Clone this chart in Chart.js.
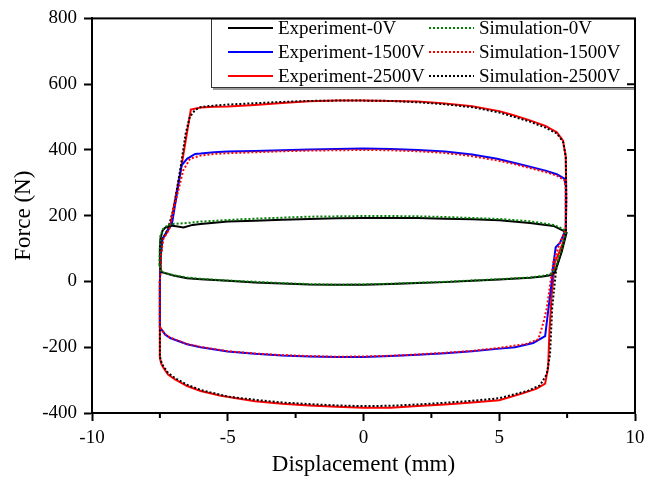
<!DOCTYPE html>
<html>
<head>
<meta charset="utf-8">
<script src="https://cdn.jsdelivr.net/npm/chart.js@4/dist/chart.umd.min.js"></script>
<style>
  html, body { margin: 0; padding: 0; background: #fff; }
  canvas { display: block; }
</style>
</head>
<body>
<canvas id="c" width="659" height="481"></canvas>
<script>
// ---- Data ----
const xTicks = [-10, -5, 0, 5, 10];
const yTicks = [-400, -200, 0, 200, 400, 600, 800];
const xMinorTicks = [-7.5, -2.5, 2.5, 7.5];

const labels = ['Experiment-0V', 'Simulation-0V', 'Experiment-1500V', 'Simulation-1500V', 'Experiment-2500V', 'Simulation-2500V'];

const exp0X = [-7.50,-7.50,-7.48,-7.40,-7.31,-7.12,-6.90,-6.63,-6.30,-6.00,-5.00,-4.00,-3.00,-2.00,-1.00,0.00,1.00,2.00,3.00,4.00,5.00,6.13,7.00,7.35,7.48,7.30,7.05,6.87,6.60,6.13,5.00,4.00,3.00,2.00,1.00,0.00,-1.00,-2.00,-3.00,-4.00,-5.00,-6.00,-6.50,-7.00,-7.43,-7.50];
const exp0Y = [45,100,130,155,163,170,168,164,172,175,182,185,188,190,192,193,193,193,191,189,186,178,169,155,148,90,28,19,15,11,6,2,-2,-5,-8,-10,-10,-9,-6,-3,2,7,10,18,28,45];

const sim0X = [-7.52,-7.50,-7.48,-7.38,-7.20,-7.00,-6.60,-6.00,-5.00,-4.00,-3.00,-2.00,-1.00,0.00,1.00,2.00,3.00,4.00,5.00,6.13,7.00,7.35,7.45,7.30,7.05,6.87,6.60,6.13,5.00,4.00,3.00,2.00,1.00,0.00,-1.00,-2.00,-3.00,-4.00,-5.00,-6.00,-6.50,-7.00,-7.43,-7.52];
const sim0Y = [49,100,139,160,172,175,177,182,187,191,194,197,198,199,199,198,196,193,190,183,172,160,150,100,35,22,17,12,7,3,-1,-4,-7,-9,-10,-8,-5,-1,3,8,12,19,29,49];

const exp1500X = [-7.50,-7.50,-7.47,-7.40,-7.20,-7.06,-6.70,-6.50,-6.20,-6.00,-5.50,-5.00,-4.00,-3.00,-2.00,-1.00,0.00,1.00,2.00,3.00,4.00,4.92,5.50,6.13,6.70,7.12,7.40,7.45,7.45,7.24,7.08,6.99,6.93,6.69,6.25,5.58,4.92,4.00,3.00,2.00,1.00,0.00,-1.00,-2.00,-3.00,-4.00,-5.00,-6.00,-6.50,-7.12,-7.31,-7.43,-7.50];
const exp1500Y = [-140,0,80,130,158,173,353,373,388,389,393,395,397,399,401,403,404,403,400,395,386,373,362,349,337,326,313,290,158,118,104,50,-2,-166,-187,-200,-205,-212,-218,-223,-227,-230,-230,-228,-225,-220,-213,-200,-191,-172,-161,-147,-140];

const sim1500X = [-7.50,-7.50,-7.46,-7.38,-7.15,-6.90,-6.64,-6.39,-6.00,-5.50,-5.00,-4.00,-3.00,-2.00,-1.00,0.00,1.00,2.00,3.00,4.00,4.92,5.50,6.13,6.70,7.12,7.40,7.45,7.45,7.20,6.99,6.75,6.62,6.44,6.00,5.00,4.00,3.00,2.00,1.00,0.00,-1.00,-2.00,-3.00,-4.00,-5.00,-6.00,-6.50,-7.12,-7.31,-7.43,-7.50];
const sim1500Y = [-140,0,80,128,160,250,338,373,383,388,390,393,396,398,399,400,399,396,391,381,368,358,345,333,322,308,285,158,110,58,-82,-127,-176,-190,-202,-211,-217,-222,-226,-228,-229,-227,-224,-219,-212,-199,-190,-171,-160,-146,-140];

const exp2500X = [-7.50,-7.50,-7.47,-7.43,-7.24,-7.12,-6.70,-6.36,-6.00,-5.50,-5.00,-4.00,-3.00,-2.00,-1.00,0.00,1.00,2.00,3.00,4.00,5.00,5.50,6.13,6.70,7.12,7.35,7.45,7.47,7.45,7.35,7.05,6.93,6.85,6.80,6.69,6.38,5.83,5.00,4.00,3.00,2.00,1.00,0.00,-1.00,-2.00,-3.00,-4.00,-5.30,-6.00,-6.50,-6.94,-7.20,-7.37,-7.45,-7.50];
const exp2500Y = [-232,-1,68,128,148,169,353,523,529,531,532,537,543,548,550,550,549,547,541,533,518,506,490,473,454,428,380,250,148,118,58,-41,-150,-262,-311,-326,-341,-361,-368,-374,-379,-384,-384,-381,-377,-372,-364,-347,-333,-318,-298,-283,-262,-250,-232];

const sim2500X = [-7.50,-7.50,-7.46,-7.40,-7.20,-7.00,-6.75,-6.55,-6.40,-6.20,-6.00,-5.50,-5.00,-4.00,-3.00,-2.00,-1.00,0.00,1.00,2.00,3.00,4.00,5.00,6.13,6.70,7.12,7.35,7.45,7.47,7.45,7.35,7.10,6.95,6.87,6.75,6.50,6.07,5.00,4.00,3.00,2.00,1.00,0.00,-1.00,-2.00,-3.00,-4.00,-5.00,-6.00,-6.50,-6.94,-7.20,-7.37,-7.47,-7.50];
const sim2500Y = [-225,0,80,128,160,220,340,450,500,522,530,535,538,542,546,549,550,550,549,545,539,530,514,486,468,450,425,380,250,148,110,40,-80,-222,-282,-316,-332,-355,-363,-369,-374,-378,-379,-377,-373,-368,-360,-350,-330,-314,-294,-278,-258,-240,-225];

// ---- helpers ----
const pts = (xs, ys) => xs.map((x, i) => ({ x: x, y: ys[i] }));
const FONT = "'Liberation Serif', 'Times New Roman', serif";

const seriesX = [exp0X, sim0X, exp1500X, sim1500X, exp2500X, sim2500X];
const seriesY = [exp0Y, sim0Y, exp1500Y, sim1500Y, exp2500Y, sim2500Y];
const colors = ['#000000', '#008000', '#0000ff', '#ff0000', '#ff0000', '#000000'];
const dashed = [false, true, false, true, false, true];

const datasets = labels.map((lab, i) => ({
  label: lab,
  data: pts(seriesX[i], seriesY[i]),
  showLine: true,
  borderColor: colors[i],
  backgroundColor: colors[i],
  borderWidth: 2,
  borderDash: dashed[i] ? [2, 2] : [],
  pointRadius: 0,
  fill: false,
  tension: 0,
  order: dashed[i] ? 0 : 1
}));

// ---- plugins: legend box, minor/right ticks, frame ----
const decor = {
  id: 'decor',
  afterDatasetsDraw(chart) {
    const ctx = chart.ctx, a = chart.chartArea;
    const L = 211, T = a.top, R = a.right, B = 88;
    ctx.save();
    ctx.fillStyle = '#fff';
    ctx.fillRect(L, T, R - L, B - T);
    ctx.strokeStyle = '#9a9a9a';
    ctx.lineWidth = 2;
    ctx.beginPath(); ctx.moveTo(L + 2, B + 1); ctx.lineTo(R, B + 1); ctx.stroke();
    ctx.strokeStyle = '#333';
    ctx.lineWidth = 1;
    ctx.strokeRect(L + 0.5, T + 0.5, R - L - 1, B - T - 1);
    const colX = [228, 429], rowY = [28, 52, 76];
    chart.data.datasets.forEach((ds, i) => {
      const cx = colX[i % 2], cy = rowY[Math.floor(i / 2)];
      ctx.strokeStyle = ds.borderColor;
      ctx.lineWidth = 2;
      ctx.setLineDash(ds.borderDash || []);
      ctx.beginPath(); ctx.moveTo(cx, cy); ctx.lineTo(cx + 45, cy); ctx.stroke();
      ctx.setLineDash([]);
      ctx.fillStyle = '#000';
      ctx.font = '19px ' + FONT;
      ctx.textAlign = 'left';
      ctx.textBaseline = 'middle';
      ctx.fillText(ds.label, cx + 50, cy + 1);
    });
    ctx.restore();
  },
  afterDraw(chart) {
    const ctx = chart.ctx, a = chart.chartArea;
    const xs = chart.scales.x, ys = chart.scales.y;
    ctx.save();
    ctx.strokeStyle = '#000';
    ctx.lineWidth = 2;
    ctx.strokeRect(a.left, a.top, a.right - a.left, a.bottom - a.top);
    ctx.beginPath();
    xMinorTicks.forEach(v => {
      const px = xs.getPixelForValue(v);
      ctx.moveTo(px, a.bottom); ctx.lineTo(px, a.bottom + 5);
    });
    yTicks.forEach(v => {
      if (v === ys.min || v === ys.max) return;
      const py = ys.getPixelForValue(v);
      ctx.moveTo(a.right, py); ctx.lineTo(a.right - 8, py);
    });
    ctx.stroke();
    ctx.restore();
  }
};

new Chart(document.getElementById('c'), {
  type: 'scatter',
  data: { datasets: datasets },
  options: {
    responsive: false,
    animation: false,
    devicePixelRatio: 1,
    layout: { padding: { top: 13, right: 24, left: 0, bottom: 0 } },
    plugins: { legend: { display: false }, tooltip: { enabled: false } },
    scales: {
      x: {
        type: 'linear', min: -10, max: 10,
        afterBuildTicks: s => { s.ticks = xTicks.map(v => ({ value: v })); },
        ticks: { color: '#000', font: { family: FONT, size: 19 }, padding: 6, maxRotation: 0, callback: v => String(v) },
        grid: { display: true, drawOnChartArea: false, drawTicks: true, tickLength: 8, tickColor: '#000', tickWidth: 2 },
        border: { display: true, color: '#000', width: 2 },
        title: { display: true, text: 'Displacement (mm)', color: '#000', font: { family: FONT, size: 23 }, padding: { top: 0, bottom: 2 } },
        afterFit: s => { s.height = 68; }
      },
      y: {
        type: 'linear', min: -400, max: 800,
        afterBuildTicks: s => { s.ticks = yTicks.map(v => ({ value: v })); },
        ticks: { color: '#000', font: { family: FONT, size: 19 }, padding: 7, callback: v => String(v) },
        grid: { display: true, drawOnChartArea: false, drawTicks: true, tickLength: 8, tickColor: '#000', tickWidth: 2 },
        border: { display: true, color: '#000', width: 2 },
        title: { display: true, text: 'Force (N)', color: '#000', font: { family: FONT, size: 23 }, padding: { top: 10, bottom: 0 } },
        afterFit: s => { s.width = 92; }
      }
    }
  },
  plugins: [decor]
});
</script>
</body>
</html>
